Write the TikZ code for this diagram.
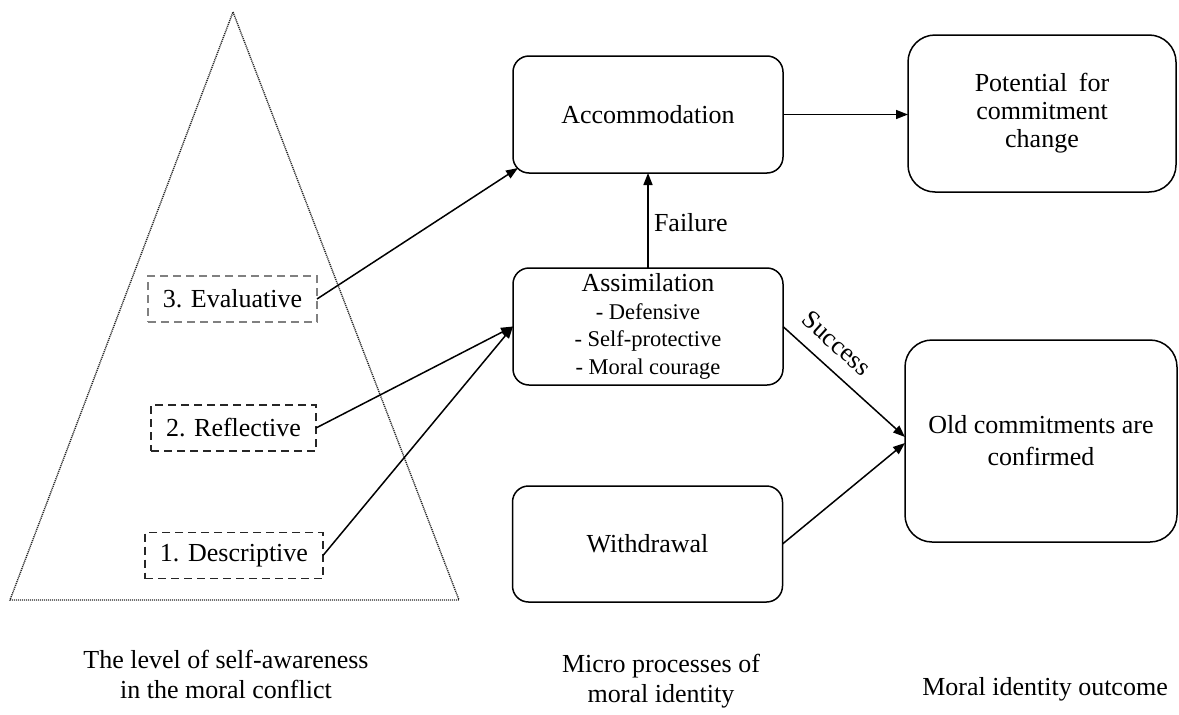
\documentclass[tikz,border=0pt]{standalone}
\usepackage{fontspec}
\setmainfont{Liberation Serif}
\usetikzlibrary{arrows.meta,calc}
\begin{document}
\begin{tikzpicture}[x=1pt,y=-1pt,
  every node/.style={inner sep=0pt, outer sep=0pt},
  txt/.style={font=\fontsize{26}{30}\selectfont, align=center},
  midbox/.style={draw, line width=1.5pt, rounded corners=16pt, minimum width=270pt, minimum height=117pt, txt},
  outbox/.style={draw, line width=1.5pt, rounded corners=27pt, txt},
  lvlbox/.style={draw, line width=1.5pt, dash pattern=on 8pt off 5pt, minimum height=46pt, txt},
  arr/.style={line width=1.5pt, -{Triangle[length=12pt,width=9pt]}},
  pyr/.style={line width=1.4pt, dash pattern=on 1.1pt off 0.9pt, black!85}
]
\useasboundingbox (0,0) rectangle (1179,715);
\fill[white] (0,0) rectangle (1179,715);

% pyramid
\coordinate (apex) at (233,12);
\coordinate (bl) at (10,600);
\coordinate (br) at (459,600);
\draw[pyr] (apex) -- (br) -- (bl) -- cycle;

% level boxes
\node[lvlbox, draw=black!50, minimum width=169pt] (eval) at (232.5,299) {3. Evaluative};
\node[lvlbox, draw=black!85, minimum width=165pt] (refl) at (233.5,428) {2. Reflective};
\node[lvlbox, draw=black!85, minimum width=178pt] (desc) at (234,555.5) {1. Descriptive};

% middle boxes
\node[midbox] (accom) at (648,114.5) {Accommodation};
\node[midbox, font=\fontsize{22.5}{27.5}\selectfont] (assim) at (648,326.5)
  {{\fontsize{26}{28}\selectfont Assimilation}\\- Defensive\\- Self-protective\\- Moral courage};
\node[midbox, minimum height=116pt] (withd) at (647.5,544) {Withdrawal};

% outcome boxes
\node[outbox, minimum width=268pt, minimum height=157pt, font=\fontsize{26}{28}\selectfont] (pot) at (1042,113.5)
  {Potential\hspace{0.45em}for\\commitment\\change};
\node[outbox, minimum width=272pt, minimum height=202pt, font=\fontsize{26}{32}\selectfont] (old) at (1041,441)
  {Old commitments are\\confirmed};

% connectors
\draw[arr] (eval.east) -- ($(accom.south west)+(5,-5)$);
\draw[arr] (refl.east) -- (assim.west);
\draw[arr] (desc.east) -- (assim.west);
\draw[arr] (assim.north) -- (accom.south)
  node[txt, pos=0.5, anchor=west, xshift=6pt, yshift=-2pt] (fail) {Failure};
\draw[arr] (accom.east) -- (accom.east -| pot.west);
\draw[arr] (assim.east) -- ($(old.west)+(0,-4)$)
  node[txt, pos=0.31, sloped, above=15pt] (succ) {Success};
\draw[arr] (withd.east) -- ($(old.west)+(0,2)$);

% column captions
\node[txt] (cap1) at (226,674) {The level of self-awareness\\in the moral conflict};
\node[txt] (cap2) at (661,681) {Micro processes of\\moral identity};
\node[txt, anchor=base] (cap3) at (1045,695) {Moral identity outcome};
\end{tikzpicture}
\end{document}
